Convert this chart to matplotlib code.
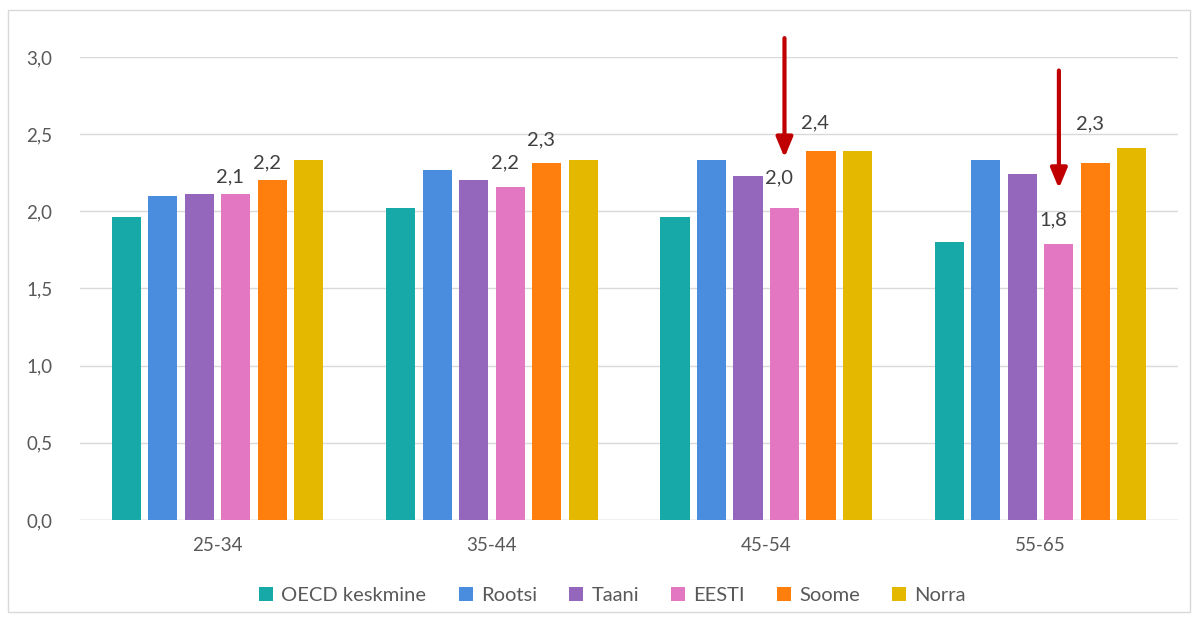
import matplotlib.pyplot as plt
import matplotlib.patches as patches
import numpy as np

plt.rcParams['font.family'] = ['Lato', 'DejaVu Sans']

# Data
groups = ['25-34', '35-44', '45-54', '55-65']
series = ['OECD keskmine', 'Rootsi', 'Taani', 'EESTI', 'Soome', 'Norra']
oecd = [1.96, 2.02, 1.96, 1.80]
rootsi = [2.10, 2.27, 2.33, 2.33]
taani = [2.11, 2.20, 2.23, 2.24]
eesti = [2.11, 2.16, 2.02, 1.79]
soome = [2.20, 2.31, 2.39, 2.31]
norra = [2.33, 2.33, 2.39, 2.41]
colors = ['#17A8A8', '#4A8DDE', '#9467BD', '#E377C2', '#FF7F0E', '#E5B800']

values = [oecd, rootsi, taani, eesti, soome, norra]

fig = plt.figure(figsize=(11.97, 6.19), dpi=100)
ax = fig.add_axes([0.067, 0.16, 0.917, 0.748])

x = np.arange(len(groups))
step = 0.133
width = 0.106
for i, (name, vals, c) in enumerate(zip(series, values, colors)):
    pos = x + (i - 2.5) * step
    ax.bar(pos, vals, width, color=c, label=name, zorder=3)

# Value labels on EESTI and Soome bars (one decimal, comma)
label_off = {3: [0.06, 0.10, 0.14, 0.10], 4: [0.06, 0.10, 0.13, 0.20]}
for i, offs in label_off.items():
    for j, v in enumerate(values[i]):
        xp = x[j] + (i - 2.5) * step
        ax.text(xp - 0.02, v + offs[j], f'{v:.1f}'.replace('.', ','),
                ha='center', va='bottom', fontsize=14.5, color='#404040')

# Red arrows pointing at EESTI bars in 45-54 and 55-65
arrows = [(2, 3.14, 2.33), (3, 2.93, 2.13)]
for j, y0, y1 in arrows:
    xp = x[j] + 0.5 * step
    ax.annotate('', xy=(xp, y1), xytext=(xp, y0),
                arrowprops=dict(arrowstyle='-|>,head_width=0.5,head_length=1.2',
                                color='#C00000', lw=3),
                annotation_clip=False)

ax.set_ylim(0, 3.0)
ax.set_xlim(-0.5, 3.5)
ax.set_yticks(np.arange(0, 3.01, 0.5))
ax.set_yticklabels([f'{t:.1f}'.replace('.', ',') for t in np.arange(0, 3.01, 0.5)])
ax.set_xticks(x)
ax.set_xticklabels(groups)
ax.tick_params(axis='both', length=0, labelsize=13.5, labelcolor='#595959')
ax.tick_params(axis='y', pad=20)
ax.tick_params(axis='x', pad=12)
ax.grid(axis='y', color='#D9D9D9', lw=1, zorder=0)
for s in ax.spines.values():
    s.set_visible(False)
ax.axhline(0, color='#D9D9D9', lw=1, zorder=2)

ax.legend(loc='upper center', bbox_to_anchor=(0.485, -0.105), ncol=6, frameon=False,
          fontsize=14.5, labelcolor='#595959', handlelength=0.7, handleheight=0.7,
          handletextpad=0.4, columnspacing=1.6)

fig.patches.append(patches.Rectangle((0.007, 0.011), 0.987, 0.973, transform=fig.transFigure,
                                     fill=False, edgecolor='#D9D9D9', lw=1))

fig.savefig('out.png', dpi=100)
